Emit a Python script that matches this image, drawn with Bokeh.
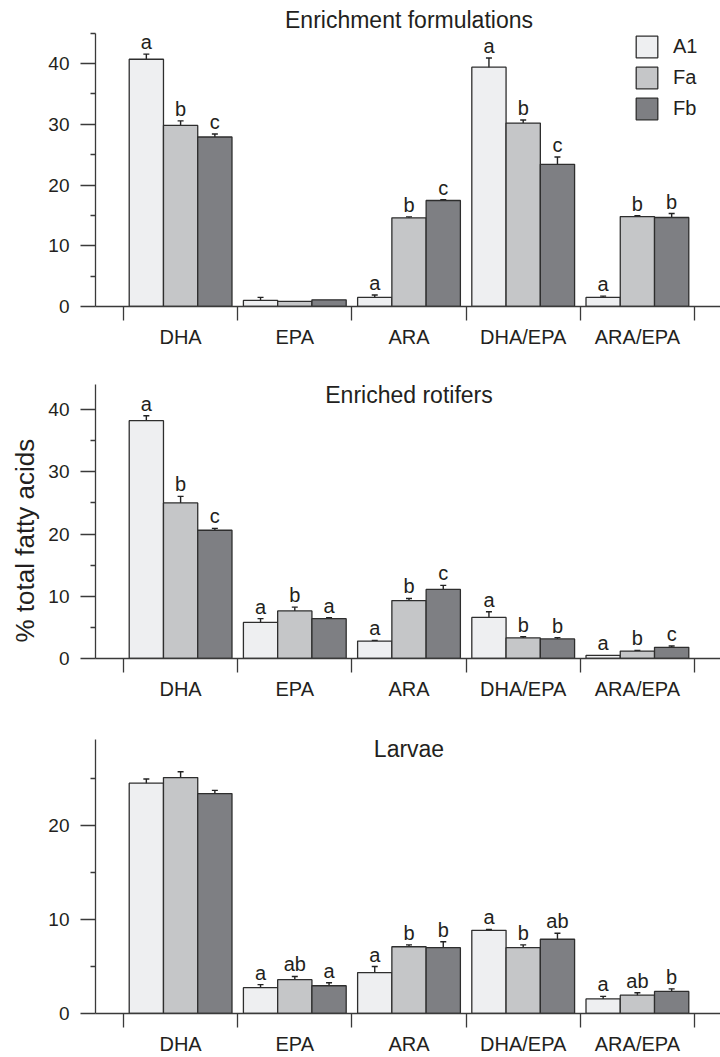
import numpy as np
from bokeh.plotting import figure
from bokeh.models import (ColumnDataSource, FixedTicker, Whisker, TeeHead, Label,
                          Legend, LegendItem, Range1d, Title)
from bokeh.layouts import column
from bokeh.embed import file_html
from bokeh.resources import INLINE
from bokeh.core.properties import value

# ---------------- data ----------------
categories = ["DHA", "EPA", "ARA", "DHA/EPA", "ARA/EPA"]
treatments = ["A1", "Fa", "Fb"]

# Enrichment formulations
form_A1 = [40.7, 1.0, 1.5, 39.4, 1.5]
form_Fa = [29.8, 0.85, 14.6, 30.2, 14.8]
form_Fb = [27.9, 1.1, 17.45, 23.4, 14.65]
form_err_A1 = [0.85, 0.5, 0.4, 1.5, 0.2]
form_err_Fa = [0.75, 0.0, 0.15, 0.5, 0.15]
form_err_Fb = [0.5, 0.0, 0.15, 1.2, 0.65]
form_let_A1 = ["a", "", "a", "a", "a"]
form_let_Fa = ["b", "", "b", "b", "b"]
form_let_Fb = ["c", "", "c", "c", "b"]

# Enriched rotifers
rot_A1 = [38.2, 5.8, 2.8, 6.6, 0.5]
rot_Fa = [25.0, 7.65, 9.3, 3.3, 1.2]
rot_Fb = [20.6, 6.4, 11.1, 3.15, 1.8]
rot_err_A1 = [0.8, 0.6, 0.1, 0.9, 0.0]
rot_err_Fa = [1.05, 0.6, 0.35, 0.2, 0.1]
rot_err_Fb = [0.3, 0.15, 0.65, 0.2, 0.2]
rot_let_A1 = ["a", "a", "a", "a", "a"]
rot_let_Fa = ["b", "b", "b", "b", "b"]
rot_let_Fb = ["c", "a", "c", "b", "c"]

# Larvae
lar_A1 = [24.5, 2.75, 4.35, 8.85, 1.55]
lar_Fa = [25.1, 3.6, 7.1, 7.0, 1.95]
lar_Fb = [23.4, 2.95, 7.0, 7.9, 2.35]
lar_err_A1 = [0.45, 0.32, 0.65, 0.1, 0.27]
lar_err_Fa = [0.62, 0.34, 0.2, 0.3, 0.25]
lar_err_Fb = [0.34, 0.32, 0.64, 0.64, 0.27]
lar_let_A1 = ["", "a", "a", "a", "a"]
lar_let_Fa = ["", "ab", "b", "b", "ab"]
lar_let_Fb = ["", "a", "b", "ab", "b"]

y_axis_label = "% total fatty acids"

# ---------------- style ----------------
FONT = "Liberation Sans"
TXT = "#231f20"
AX = "#3a3a3a"
COLORS = ["#eeeff1", "#c5c6c8", "#7e7f83"]
OFFSETS = [-0.3, 0.0, 0.3]
X0, X1 = -0.2452, 5.2277
W = 720
BOTTOM = 44


def make_panel(title, title_y, vals, errs, lets, height, y_end, axis_top,
               major, minor, legend=False, ylabel=None):
    p = figure(width=W, height=height, x_range=Range1d(X0, X1),
               y_range=Range1d(0, y_end), output_backend="svg",
               toolbar_location=None, min_border_left=95, min_border_right=0,
               min_border_top=0, min_border_bottom=BOTTOM)
    p.outline_line_color = None
    p.xgrid.visible = False
    p.ygrid.visible = False

    idx = np.arange(len(categories)) + 0.5
    rends = []
    for k in range(len(treatments)):
        v = np.array(vals[k], dtype=float)
        e = np.array(errs[k], dtype=float)
        src = ColumnDataSource(dict(x=idx + OFFSETS[k], top=v, upper=v + e,
                                    label=lets[k]))
        r = p.vbar(x="x", top="top", width=0.3, source=src,
                   fill_color=COLORS[k], line_color="#2e2e2e", line_width=1.3)
        rends.append(r)
        m = e > 0
        wsrc = ColumnDataSource(dict(x=(idx + OFFSETS[k])[m], upper=(v + e)[m],
                                     lower=(v - e)[m]))
        w = Whisker(source=wsrc, base="x", upper="upper", lower="lower",
                    line_color="#222222", line_width=1.4,
                    upper_head=TeeHead(size=6, line_color="#222222", line_width=1.4),
                    lower_head=TeeHead(size=6, line_color="#222222", line_width=1.4))
        p.add_layout(w)
        p.text(x="x", y="upper", text="label", source=src, text_align="center",
               text_baseline="middle", y_offset=-12,
               text_font=value(FONT), text_font_size="20px", text_color=TXT)

    p.add_layout(Label(x=2.5, y=title_y, text=title, text_align="center",
                       text_baseline="middle", text_font=FONT,
                       text_font_size="23px", text_color=TXT))

    # x axis
    xa = p.xaxis[0]
    xa.ticker = FixedTicker(ticks=list(idx), minor_ticks=list(range(len(categories) + 1)))
    xa.major_label_overrides = {float(i): c for i, c in zip(idx, categories)}
    xa.major_tick_out = 0
    xa.major_tick_in = 0
    xa.minor_tick_out = 14
    xa.minor_tick_in = 0
    xa.minor_tick_line_color = AX
    xa.minor_tick_line_width = 1.3
    xa.axis_line_color = AX
    xa.axis_line_width = 1.3
    xa.major_label_standoff = 5
    xa.major_label_text_font = FONT
    xa.major_label_text_font_size = "20px"
    xa.major_label_text_color = TXT

    # y axis
    ya = p.yaxis[0]
    ya.ticker = FixedTicker(ticks=major, minor_ticks=minor)
    ya.bounds = (0, axis_top)
    ya.major_tick_out = 15
    ya.major_tick_in = 0
    ya.minor_tick_out = 5
    ya.minor_tick_in = 0
    ya.major_tick_line_color = AX
    ya.minor_tick_line_color = AX
    ya.major_tick_line_width = 1.3
    ya.minor_tick_line_width = 1.3
    ya.axis_line_color = AX
    ya.axis_line_width = 1.3
    ya.major_label_standoff = 11
    ya.major_label_text_font = FONT
    ya.major_label_text_font_size = "19px"
    ya.major_label_text_color = TXT

    if ylabel:
        t = Title(text=ylabel, align="left", offset=16, standoff=11,
                  text_font=FONT, text_font_size="26px", text_font_style="normal",
                  text_color=TXT)
        p.add_layout(t, "left")

    if legend:
        lg = Legend(items=[LegendItem(label=t, renderers=[r]) for t, r in zip(treatments, rends)],
                    location=(538, 184), glyph_width=27, glyph_height=27,
                    spacing=4, padding=0, margin=0, label_standoff=13,
                    label_text_font=FONT, label_text_font_size="20px",
                    label_text_color=TXT, border_line_alpha=0,
                    background_fill_alpha=0)
        p.add_layout(lg)
    return p


# page rows: panel 1 zero at y=306, panel 2 at 658, panel 3 at 1013
p1 = make_panel("Enrichment formulations", 47.1,
                [form_A1, form_Fa, form_Fb], [form_err_A1, form_err_Fa, form_err_Fb],
                [form_let_A1, form_let_Fa, form_let_Fb],
                height=306 + BOTTOM, y_end=306 / 6.075, axis_top=45,
                major=[0, 10, 20, 30, 40], minor=[5, 15, 25, 35, 45], legend=True)
p2 = make_panel("Enriched rotifers", 42.4,
                [rot_A1, rot_Fa, rot_Fb], [rot_err_A1, rot_err_Fa, rot_err_Fb],
                [rot_let_A1, rot_let_Fa, rot_let_Fb],
                height=308 + BOTTOM, y_end=308 / 6.225, axis_top=44,
                major=[0, 10, 20, 30, 40], minor=[5, 15, 25, 35],
                ylabel=y_axis_label)
p3 = make_panel("Larvae", 28.15,
                [lar_A1, lar_Fa, lar_Fb], [lar_err_A1, lar_err_Fa, lar_err_Fb],
                [lar_let_A1, lar_let_Fa, lar_let_Fb],
                height=311 + BOTTOM, y_end=311 / 9.4, axis_top=29.1,
                major=[0, 10, 20], minor=[5, 15, 25])

layout = column(p1, p2, p3, spacing=0)
open("out.html", "w").write(file_html(layout, INLINE))
